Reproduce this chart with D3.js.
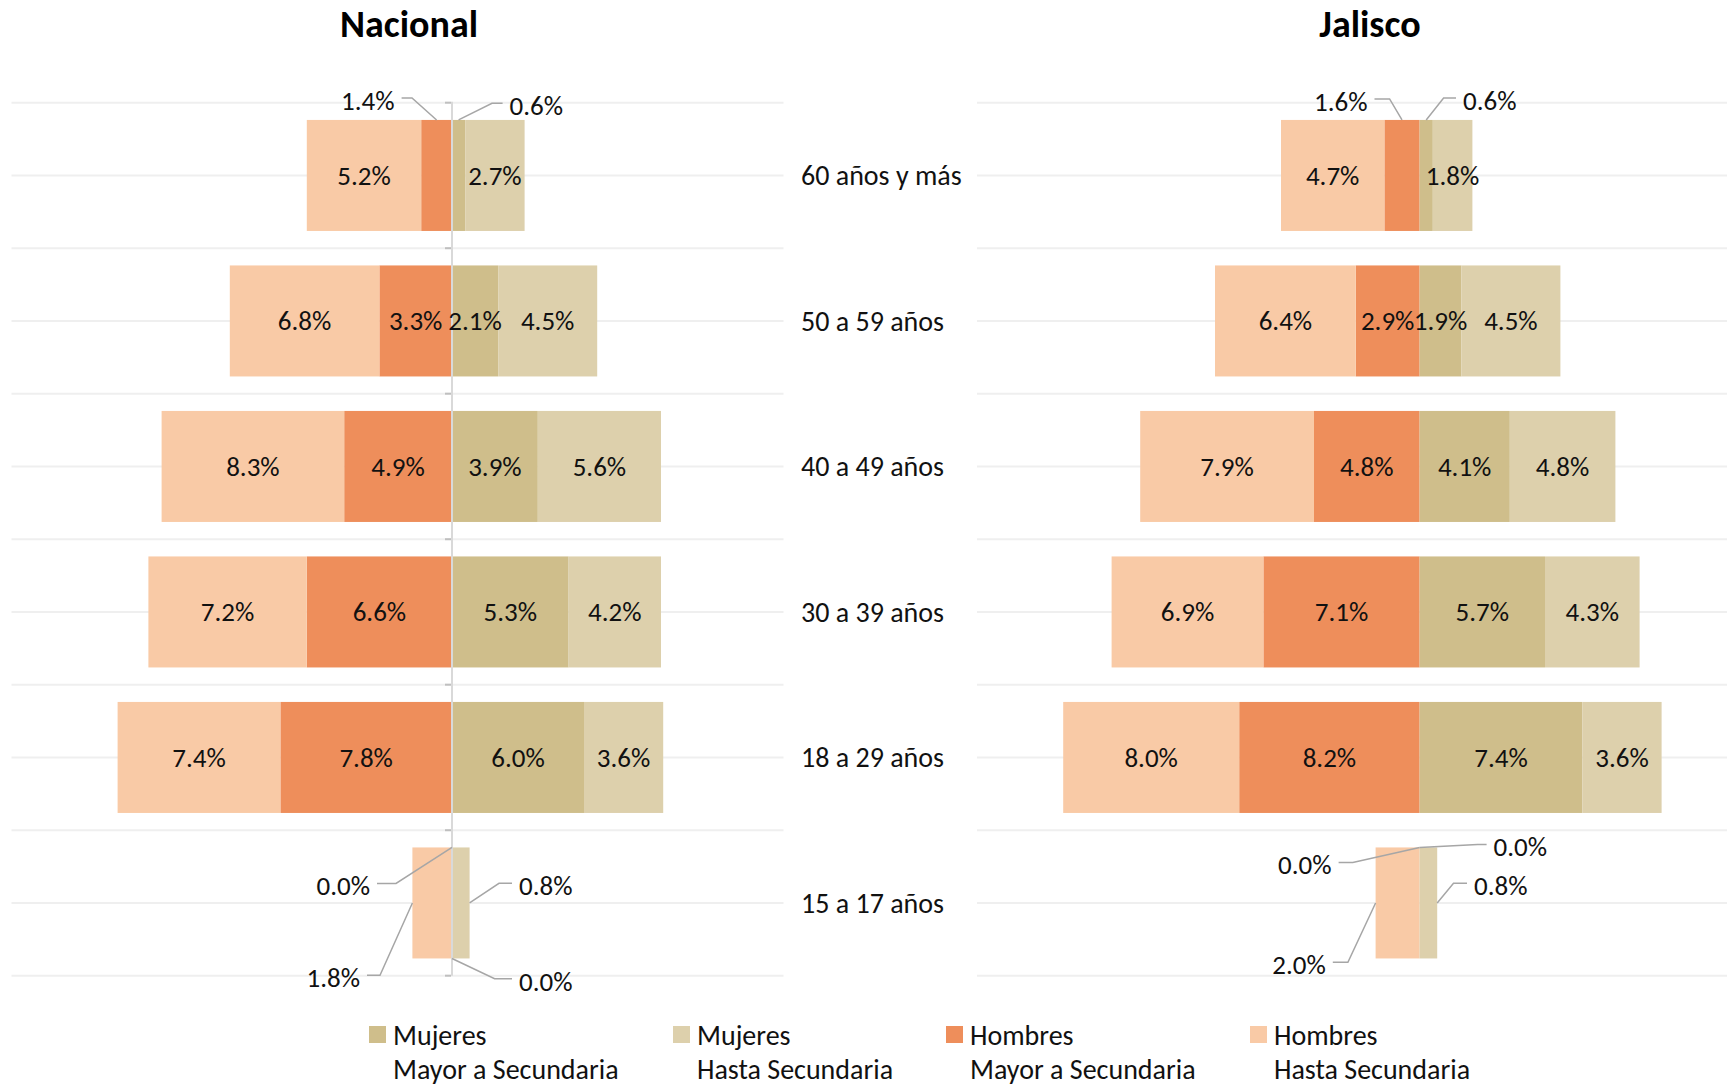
<!DOCTYPE html>
<html lang="es">
  <head>
    <meta charset="utf-8">
    <title>Nacional / Jalisco</title>
    <style>
      body{ margin:0; background:#fff; }
      svg{ display:block; font-family: Carlito, Calibri, Lato, sans-serif; }
      .grid{ stroke:#efefef; stroke-width:2; }
      .axis{ stroke:#d9d9d9; stroke-width:2; }
      .tick{ stroke:#bfbfbf; stroke-width:2; }
      .title{ font-size:38px; font-weight:bold; fill:#000; text-anchor:middle; }
      .cat{ font-size:28px; fill:#111; }
      .lbl{ font-size:27px; fill:#111; }
      .leader{ stroke:#a6a6a6; stroke-width:1.5; fill:none; }
      .leg{ font-size:28px; fill:#111; }
    </style>
  </head>
  <body>
    <div id="container"></div>
    <script src="https://cdn.jsdelivr.net/npm/d3@7"></script>
    <script type="text/javascript">

      // age groups, top to bottom
      var ages = ["60 años y más", "50 a 59 años", "40 a 49 años", "30 a 39 años", "18 a 29 años", "15 a 17 años"];

      // Nacional (%)
      var nacHombresHasta = [5.2, 6.8, 8.3, 7.2, 7.4, 1.8];
      var nacHombresMayor = [1.4, 3.3, 4.9, 6.6, 7.8, 0.0];
      var nacMujeresMayor = [0.6, 2.1, 3.9, 5.3, 6.0, 0.0];
      var nacMujeresHasta = [2.7, 4.5, 5.6, 4.2, 3.6, 0.8];

      // Jalisco (%)
      var jalHombresHasta = [4.7, 6.4, 7.9, 6.9, 8.0, 2.0];
      var jalHombresMayor = [1.6, 2.9, 4.8, 7.1, 8.2, 0.0];
      var jalMujeresMayor = [0.6, 1.9, 4.1, 5.7, 7.4, 0.0];
      var jalMujeresHasta = [1.8, 4.5, 4.8, 4.3, 3.6, 0.8];

      var legendTop = ["Mujeres", "Mujeres", "Hombres", "Hombres"];
      var legendBottom = ["Mayor a Secundaria", "Hasta Secundaria", "Mayor a Secundaria", "Hasta Secundaria"];

      var colors = { mm: "#cfbe8b", mh: "#ddd0ac", hm: "#ee8e5b", hh: "#f9caa6" };

      // labels drawn outside the bars with a leader line (offsets in px)
      var outside = [
        { panel: 0, row: 0, key: "hm", at: "top",  dx: -24.6, dy: -22,  tx: -42 },
        { panel: 0, row: 0, key: "mm", at: "top",  dx: 33.4,  dy: -16.6, tx: 51 },
        { panel: 1, row: 0, key: "hm", at: "top",  dx: -12.4, dy: -21,  tx: -34.5 },
        { panel: 1, row: 0, key: "mm", at: "top",  dx: 17.4,  dy: -22,  tx: 36.8 },
        { panel: 0, row: 5, key: "hm", at: "top",  dx: -56,   dy: 36,   tx: -82 },
        { panel: 0, row: 5, key: "mh", at: "side", dx: 29.4,  dy: -19.6, tx: 49.4 },
        { panel: 0, row: 5, key: "hh", at: "side", dx: -32.4, dy: 72.4, tx: -52.4 },
        { panel: 0, row: 5, key: "mm", at: "bottom", dx: 42.6, dy: 20.3, tx: 67 },
        { panel: 1, row: 5, key: "hm", at: "top",  dx: -66.8, dy: 15,   tx: -88 },
        { panel: 1, row: 5, key: "mm", at: "top",  dx: 58,    dy: -3,   tx: 74 },
        { panel: 1, row: 5, key: "mh", at: "side", dx: 16.3,  dy: -19.6, tx: 36.8 },
        { panel: 1, row: 5, key: "hh", at: "side", dx: -27.7, dy: 59.4, tx: -49.8 }
      ];

      var width = 1727, height = 1088;

      var svg = d3.select("#container").append("svg")
        .attr("width", width).attr("height", height);

      var y = d3.scaleBand().domain(ages).range([102.7, 975.7])
        .paddingInner(0.237).paddingOuter(0.1185);

      var panels = [
        { name: "Nacional", titleX: 409, gridX: [11.5, 783.5], axisLine: true,
          x: d3.scaleLinear().domain([-20, 15]).range([12, 782]),
          hh: nacHombresHasta, hm: nacHombresMayor, mm: nacMujeresMayor, mh: nacMujeresHasta },
        { name: "Jalisco", titleX: 1370, gridX: [977, 1727], axisLine: false,
          x: d3.scaleLinear().domain([-20, 14]).range([979.6, 1727.6]),
          hh: jalHombresHasta, hm: jalHombresMayor, mm: jalMujeresMayor, mh: jalMujeresHasta }
      ];

      // gridlines at band edges and band centres
      var gridY = [];
      ages.forEach(function(a){
        gridY.push(y(a) - y.step() * y.paddingInner() / 2);
        gridY.push(y(a) + y.bandwidth() / 2);
      });
      gridY.push(y(ages[ages.length - 1]) + y.bandwidth() + y.step() * y.paddingInner() / 2);
      var edgeY = gridY.filter(function(d, i){ return i % 2 === 0; });

      panels.forEach(function(p, pi){
        var g = svg.append("g");
        var x = p.x;

        g.selectAll("line.grid").data(gridY).enter().append("line")
          .attr("class", "grid")
          .attr("x1", p.gridX[0]).attr("x2", p.gridX[1])
          .attr("y1", function(d){ return d; }).attr("y2", function(d){ return d; });

        g.append("text").attr("class", "title")
          .attr("x", p.titleX).attr("y", 23).attr("dy", "0.36em")
          .text(p.name);

        // build segments: hombres to the left, mujeres to the right
        var segs = [];
        ages.forEach(function(a, i){
          segs.push({ row: i, key: "hm", v: p.hm[i], x0: 0, x1: -p.hm[i] });
          segs.push({ row: i, key: "hh", v: p.hh[i], x0: -p.hm[i], x1: -p.hm[i] - p.hh[i] });
          segs.push({ row: i, key: "mm", v: p.mm[i], x0: 0, x1: p.mm[i] });
          segs.push({ row: i, key: "mh", v: p.mh[i], x0: p.mm[i], x1: p.mm[i] + p.mh[i] });
        });

        g.selectAll("rect.bar").data(segs).enter().append("rect")
          .attr("class", "bar")
          .attr("x", function(d){ return x(Math.min(d.x0, d.x1)); })
          .attr("width", function(d){ return Math.abs(x(d.x1) - x(d.x0)); })
          .attr("y", function(d){ return y(ages[d.row]); })
          .attr("height", y.bandwidth())
          .attr("fill", function(d){ return colors[d.key]; });

        if (p.axisLine){
          g.append("line").attr("class", "axis")
            .attr("x1", x(0)).attr("x2", x(0))
            .attr("y1", gridY[0] - 1).attr("y2", gridY[gridY.length - 1]);
          g.selectAll("line.tick").data(edgeY).enter().append("line")
            .attr("class", "tick")
            .attr("x1", x(0) - 7).attr("x2", x(0) - 1)
            .attr("y1", function(d){ return d; }).attr("y2", function(d){ return d; });
        }

        var fmt = function(v){ return v.toFixed(1) + "%"; };
        var isOut = function(d){
          return outside.some(function(o){ return o.panel === pi && o.row === d.row && o.key === d.key; });
        };

        g.selectAll("text.in").data(segs.filter(function(d){ return d.v > 0 && !isOut(d); })).enter()
          .append("text").attr("class", "lbl")
          .attr("text-anchor", "middle")
          .attr("x", function(d){ return (x(d.x0) + x(d.x1)) / 2; })
          .attr("y", function(d){ return y(ages[d.row]) + y.bandwidth() / 2; })
          .attr("dy", "0.35em")
          .text(function(d){ return fmt(d.v); });

        outside.filter(function(o){ return o.panel === pi; }).forEach(function(o){
          var s = segs.filter(function(d){ return d.row === o.row && d.key === o.key; })[0];
          var top = y(ages[o.row]);
          var ax, ay;
          if (o.at === "side"){ ax = x(s.x1); ay = top + y.bandwidth() / 2; }
          else { ax = (x(s.x0) + x(s.x1)) / 2; ay = o.at === "top" ? top : top + y.bandwidth(); }
          var ex = ax + o.dx, ey = ay + o.dy;
          var sign = o.tx < 0 ? -1 : 1;
          var lx = ax + o.tx;
          g.append("path").attr("class", "leader")
            .attr("d", d3.line()([[ax, ay], [ex, ey], [lx - sign * 7, ey]]));
          g.append("text").attr("class", "lbl")
            .attr("text-anchor", sign < 0 ? "end" : "start")
            .attr("x", lx).attr("y", ey + 2.5).attr("dy", "0.35em")
            .text(fmt(s.v));
        });
      });

      // category labels between the panels
      svg.selectAll("text.cat").data(ages).enter().append("text")
        .attr("class", "cat")
        .attr("x", 801)
        .attr("y", function(d){ return y(d) + y.bandwidth() / 2; })
        .attr("dy", "0.35em")
        .text(function(d){ return d; });

      // legend
      var legKeys = ["mm", "mh", "hm", "hh"];
      var legX = [369, 673, 946, 1250];
      legKeys.forEach(function(k, i){
        var lg = svg.append("g").attr("transform", "translate(" + legX[i] + ",0)");
        lg.append("rect").attr("x", 0).attr("y", 1026).attr("width", 17).attr("height", 17)
          .attr("fill", colors[k]);
        lg.append("text").attr("class", "leg").attr("x", 24).attr("y", 1035).attr("dy", "0.35em")
          .text(legendTop[i]);
        lg.append("text").attr("class", "leg").attr("x", 24).attr("y", 1069).attr("dy", "0.35em")
          .text(legendBottom[i]);
      });

    </script>
  </body>
</html>
